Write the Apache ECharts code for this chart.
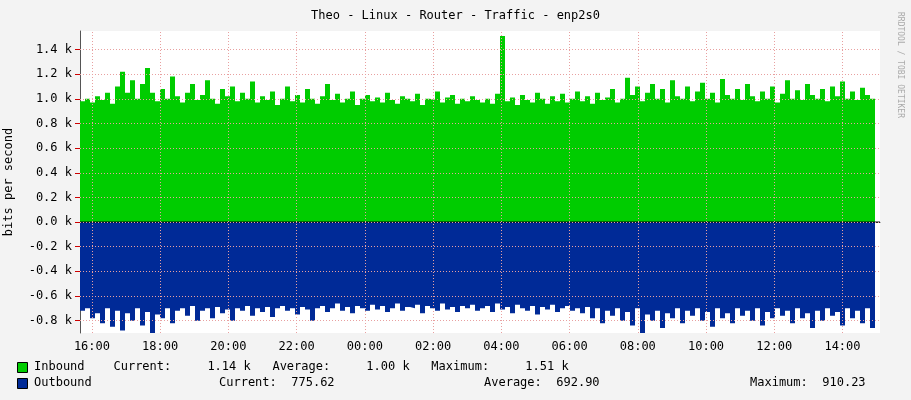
<!DOCTYPE html>
<html><head><meta charset="utf-8">
<script src="https://cdn.jsdelivr.net/npm/echarts@6/dist/echarts.min.js"></script>
<style>html,body{margin:0;padding:0;background:#f3f3f3}#c{width:911px;height:400px}</style>
</head><body><div id="c"></div>
<script>
const startHour = 15.65, spanHours = 23.45;
const xTicks = [16,18,20,22,24,26,28,30,32,34,36,38];
const yTicks = [-0.8,-0.6,-0.4,-0.2,0,0.2,0.4,0.6,0.8,1.0,1.2,1.4];
const inbound = [
0.98,1.0,0.97,1.02,0.99,1.05,0.96,1.1,1.22,1.05,1.15,1.0,1.12,1.25,1.05,0.98,1.08,1.0,1.18,1.02,
0.97,1.05,1.12,0.99,1.03,1.15,1.0,0.96,1.08,1.02,1.1,0.98,1.05,1.0,1.14,0.97,1.02,0.99,1.06,0.95,
1.0,1.1,0.98,1.03,0.97,1.08,1.0,0.96,1.02,1.12,0.99,1.04,0.97,1.0,1.06,0.95,1.0,1.03,0.98,1.01,
0.97,1.05,0.99,0.96,1.02,1.0,0.98,1.04,0.95,1.0,0.99,1.06,0.97,1.01,1.03,0.96,1.0,0.98,1.02,0.99,
0.97,1.0,0.96,1.04,1.51,0.98,1.01,0.95,1.03,0.99,0.97,1.05,1.0,0.96,1.02,0.98,1.04,0.97,1.0,1.06,
0.98,1.02,0.96,1.05,0.99,1.01,1.08,0.97,1.0,1.17,1.03,1.1,0.98,1.05,1.12,1.0,1.08,0.97,1.15,1.02,
1.0,1.1,0.98,1.06,1.13,1.0,1.05,0.97,1.16,1.03,1.0,1.08,0.99,1.12,1.02,0.98,1.06,1.0,1.1,0.97,
1.04,1.15,1.0,1.07,0.99,1.12,1.03,1.0,1.08,0.98,1.1,1.02,1.14,1.0,1.06,0.99,1.09,1.03,1.0,1.14];
const outbound = [
-0.72,-0.7,-0.78,-0.74,-0.82,-0.7,-0.85,-0.72,-0.88,-0.74,-0.8,-0.7,-0.84,-0.73,-0.9,-0.75,-0.78,-0.7,-0.82,-0.72,
-0.7,-0.76,-0.68,-0.8,-0.72,-0.7,-0.78,-0.69,-0.74,-0.71,-0.8,-0.7,-0.72,-0.68,-0.76,-0.7,-0.73,-0.69,-0.77,-0.7,
-0.68,-0.72,-0.7,-0.75,-0.69,-0.71,-0.8,-0.7,-0.68,-0.73,-0.7,-0.66,-0.72,-0.69,-0.74,-0.68,-0.7,-0.72,-0.67,-0.71,
-0.68,-0.73,-0.7,-0.66,-0.72,-0.69,-0.7,-0.67,-0.74,-0.68,-0.7,-0.72,-0.66,-0.71,-0.69,-0.73,-0.68,-0.7,-0.67,-0.72,
-0.7,-0.68,-0.73,-0.66,-0.71,-0.69,-0.74,-0.67,-0.7,-0.72,-0.68,-0.75,-0.69,-0.71,-0.67,-0.73,-0.7,-0.68,-0.72,-0.7,
-0.74,-0.69,-0.78,-0.7,-0.82,-0.72,-0.76,-0.7,-0.8,-0.73,-0.84,-0.7,-0.91,-0.75,-0.8,-0.72,-0.86,-0.74,-0.78,-0.7,
-0.82,-0.72,-0.76,-0.7,-0.8,-0.73,-0.85,-0.7,-0.78,-0.74,-0.82,-0.7,-0.76,-0.72,-0.8,-0.7,-0.84,-0.73,-0.78,-0.7,
-0.76,-0.72,-0.82,-0.7,-0.78,-0.74,-0.86,-0.72,-0.8,-0.7,-0.76,-0.73,-0.84,-0.7,-0.78,-0.72,-0.82,-0.7,-0.86,-0.75];
const step = spanHours / inbound.length;
const toPts = arr => arr.map((v,i)=>[startHour + i*step, v]);
const mono = '"DejaVu Sans Mono", monospace';
const chart = echarts.init(document.getElementById('c'));
const gridLines = {silent:true, symbol:'none', label:{show:false}, animation:false,
  lineStyle:{color:'#e8a0a0', type:[1,2], width:1},
  data: yTicks.map(v=>({yAxis:v})).concat(xTicks.map(v=>({xAxis:v})))};
chart.setOption({
  backgroundColor:'#f3f3f3', animation:false,
  title:{text:'Theo - Linux - Router - Traffic - enp2s0', left:'center', top:5,
    textStyle:{fontFamily:mono, fontSize:12, fontWeight:'normal', color:'#000'}},
  grid:{left:80, right:31, top:31, bottom:67, backgroundColor:'#fff', show:true, borderWidth:0,
    containLabel:false, outerBoundsMode:'none'},
  xAxis:{type:'value', min:startHour, max:startHour+spanHours,
    axisLine:{lineStyle:{color:'#555'}}, splitLine:{show:false},
    axisTick:{customValues:xTicks, lineStyle:{color:'#c00'}},
    axisLabel:{customValues:xTicks, fontFamily:mono, fontSize:12, color:'#000',
      formatter:v=>String(Math.round(v)%24).padStart(2,'0')+':00'}},
  yAxis:{type:'value', min:-0.9, max:1.55, name:'bits per second', nameLocation:'middle', nameGap:65,
    nameTextStyle:{fontFamily:mono, fontSize:12, color:'#000'},
    axisLine:{show:true, lineStyle:{color:'#555'}}, splitLine:{show:false},
    axisTick:{customValues:yTicks, lineStyle:{color:'#c00'}},
    axisLabel:{customValues:yTicks, fontFamily:mono, fontSize:12, color:'#000',
      formatter:v=>v.toFixed(1)+' k'}},
  series:[
    {type:'line', step:'end', symbol:'none', data:toPts(inbound), lineStyle:{width:0},
     areaStyle:{color:'#00cc00', opacity:1}, markLine:gridLines, z:2},
    {type:'line', step:'end', symbol:'none', data:toPts(outbound), lineStyle:{width:0},
     areaStyle:{color:'#002a97', opacity:1}, z:2},
    {type:'line', symbol:'none', data:[[startHour,0],[startHour+spanHours,0]], lineStyle:{color:'#000',width:1}, z:3}
  ],
  graphic:[
    {type:'text', left:896, top:12, rotation:-Math.PI/2, originX:0, originY:0,
     style:{text:'RRDTOOL / TOBI OETIKER', fontFamily:mono, fontSize:8, fill:'#aaa'}},
    {type:'rect', left:17, top:362, shape:{width:10,height:10}, style:{fill:'#00cc00', stroke:'#000'}},
    {type:'text', left:34, top:361, style:{text:'Inbound    Current:     1.14 k   Average:     1.00 k   Maximum:     1.51 k', fontFamily:mono, fontSize:12, fill:'#000'}},
    {type:'rect', left:17, top:378, shape:{width:10,height:10}, style:{fill:'#002a97', stroke:'#000'}},
    {type:'text', left:34, top:377, style:{text:'Outbound', fontFamily:mono, fontSize:12, fill:'#000'}},
    {type:'text', left:219, top:377, style:{text:'Current:  775.62', fontFamily:mono, fontSize:12, fill:'#000'}},
    {type:'text', left:484, top:377, style:{text:'Average:  692.90', fontFamily:mono, fontSize:12, fill:'#000'}},
    {type:'text', left:750, top:377, style:{text:'Maximum:  910.23', fontFamily:mono, fontSize:12, fill:'#000'}}
  ]
});
</script></body></html>
